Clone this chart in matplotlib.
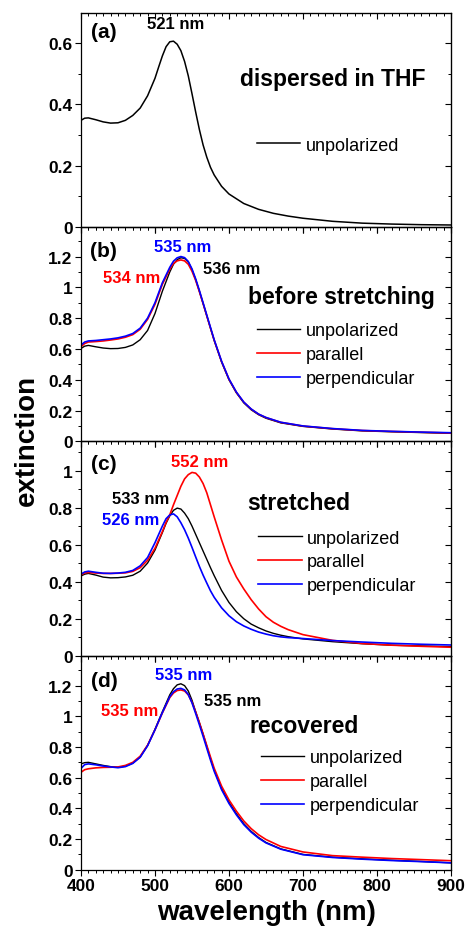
import matplotlib
matplotlib.use('Agg')
import matplotlib.pyplot as plt
from matplotlib.ticker import MultipleLocator, FuncFormatter

plt.rcParams['font.family'] = ['Liberation Sans', 'DejaVu Sans']
plt.rcParams['font.weight'] = 'bold'

# ---------------- data ----------------
# (a) dispersed in THF
wl_a = [400, 405, 410, 420, 430, 440, 450, 460, 470, 480, 490, 500, 505, 510, 515, 520, 525, 530, 535,
        540, 545, 550, 555, 560, 565, 570, 575, 580, 590, 600, 620, 640, 660, 680, 700, 740, 780, 820,
        860, 900]
a_unpol = [0.348, 0.355, 0.356, 0.350, 0.343, 0.339, 0.340, 0.348, 0.364, 0.388, 0.428, 0.485, 0.522,
           0.558, 0.588, 0.604, 0.606, 0.596, 0.575, 0.540, 0.493, 0.435, 0.375, 0.318, 0.268, 0.228,
           0.195, 0.170, 0.133, 0.108, 0.077, 0.058, 0.045, 0.036, 0.029, 0.019, 0.013, 0.010, 0.008,
           0.007]

# (b) before stretching and (d) recovered share a wavelength grid
wl_bd = [400, 405, 410, 420, 430, 440, 450, 460, 470, 480, 490, 500, 510, 520, 525, 530, 535, 540,
         545, 550, 555, 560, 565, 570, 575, 580, 590, 600, 610, 620, 630, 640, 650, 670, 700, 740,
         780, 820, 860, 900]
b_unpol = [0.603, 0.618, 0.623, 0.614, 0.606, 0.602, 0.603, 0.610, 0.626, 0.660, 0.720, 0.830, 0.975,
           1.100, 1.150, 1.180, 1.192, 1.188, 1.165, 1.115, 1.050, 0.975, 0.895, 0.815, 0.735, 0.655,
           0.515, 0.400, 0.315, 0.250, 0.205, 0.173, 0.150, 0.120, 0.097, 0.080, 0.068, 0.062, 0.057, 0.052]
b_par = [0.615, 0.635, 0.645, 0.648, 0.652, 0.658, 0.665, 0.676, 0.693, 0.728, 0.792, 0.890, 1.020,
         1.118, 1.155, 1.172, 1.178, 1.172, 1.150, 1.105, 1.045, 0.972, 0.895, 0.815, 0.735, 0.657,
         0.518, 0.403, 0.318, 0.254, 0.209, 0.176, 0.154, 0.123, 0.099, 0.082, 0.070, 0.064, 0.059, 0.054]
b_perp = [0.625, 0.645, 0.652, 0.655, 0.660, 0.665, 0.672, 0.683, 0.700, 0.735, 0.800, 0.900, 1.030,
          1.130, 1.170, 1.192, 1.200, 1.193, 1.168, 1.120, 1.055, 0.980, 0.900, 0.820, 0.740, 0.660,
          0.520, 0.405, 0.320, 0.255, 0.210, 0.177, 0.155, 0.124, 0.100, 0.083, 0.071, 0.065, 0.060, 0.056]

# (c) stretched
wl_c = [400, 405, 410, 420, 430, 440, 450, 460, 470, 480, 490, 500, 510, 515, 520, 525, 530, 535, 540,
        545, 550, 555, 560, 565, 570, 575, 580, 590, 600, 610, 620, 630, 640, 650, 660, 670, 680, 700,
        740, 780, 820, 860, 900]
c_unpol = [0.430, 0.440, 0.444, 0.435, 0.424, 0.420, 0.421, 0.425, 0.434, 0.456, 0.500, 0.570, 0.665,
           0.715, 0.755, 0.785, 0.797, 0.792, 0.770, 0.740, 0.700, 0.655, 0.610, 0.565, 0.520, 0.475,
           0.432, 0.352, 0.287, 0.237, 0.199, 0.170, 0.150, 0.133, 0.120, 0.110, 0.102, 0.090, 0.075,
           0.064, 0.056, 0.052, 0.048]
c_par = [0.435, 0.447, 0.449, 0.446, 0.444, 0.444, 0.445, 0.447, 0.455, 0.475, 0.515, 0.580, 0.670,
         0.720, 0.761, 0.815, 0.865, 0.915, 0.955, 0.978, 0.990, 0.986, 0.965, 0.930, 0.880, 0.815,
         0.750, 0.625, 0.510, 0.425, 0.360, 0.302, 0.252, 0.210, 0.180, 0.158, 0.140, 0.113, 0.082,
         0.065, 0.056, 0.050, 0.045]
c_perp = [0.440, 0.452, 0.456, 0.450, 0.445, 0.444, 0.446, 0.450, 0.460, 0.485, 0.530, 0.610, 0.700,
          0.740, 0.760, 0.766, 0.750, 0.718, 0.680, 0.635, 0.585, 0.533, 0.482, 0.435, 0.392, 0.350,
          0.315, 0.258, 0.215, 0.183, 0.160, 0.142, 0.127, 0.116, 0.107, 0.101, 0.097, 0.092, 0.081,
          0.073, 0.066, 0.061, 0.057]

# (d) recovered
d_unpol = [0.690, 0.698, 0.700, 0.690, 0.680, 0.672, 0.668, 0.675, 0.695, 0.735, 0.810, 0.915, 1.030,
           1.140, 1.180, 1.205, 1.212, 1.200, 1.165, 1.105, 1.030, 0.960, 0.885, 0.805, 0.725, 0.650,
           0.530, 0.440, 0.365, 0.300, 0.250, 0.210, 0.178, 0.136, 0.100, 0.082, 0.071, 0.062, 0.054, 0.045]
d_par = [0.635, 0.652, 0.658, 0.664, 0.667, 0.668, 0.670, 0.680, 0.700, 0.740, 0.812, 0.912, 1.022,
         1.122, 1.152, 1.168, 1.172, 1.165, 1.140, 1.092, 1.028, 0.958, 0.885, 0.810, 0.735, 0.662,
         0.545, 0.455, 0.382, 0.318, 0.268, 0.228, 0.197, 0.152, 0.116, 0.092, 0.082, 0.073, 0.066, 0.059]
d_perp = [0.660, 0.685, 0.690, 0.684, 0.676, 0.670, 0.665, 0.672, 0.693, 0.733, 0.808, 0.912, 1.025,
          1.128, 1.160, 1.178, 1.182, 1.172, 1.142, 1.088, 1.018, 0.945, 0.870, 0.792, 0.715, 0.642,
          0.522, 0.432, 0.358, 0.294, 0.245, 0.206, 0.175, 0.134, 0.098, 0.080, 0.069, 0.060, 0.053, 0.045]

series_labels = ['unpolarized', 'parallel', 'perpendicular']
series_colors = ['#000000', '#ff0000', '#0000ff']
panel_tags = ['(a)', '(b)', '(c)', '(d)']
panel_titles = ['dispersed in THF', 'before stretching', 'stretched', 'recovered']
y_tops = [0.698, 1.391, 1.158, 1.396]
x_ticks = [400, 500, 600, 700, 800, 900]

# ---------------- figure ----------------
fig = plt.figure(figsize=(4.67, 9.29), dpi=100)
gs = fig.add_gridspec(4, 1, left=0.1734, right=0.9657, bottom=0.0627, top=0.985, hspace=0)
axes = [fig.add_subplot(gs[i]) for i in range(4)]

fmt = FuncFormatter(lambda v, p: f'{v:g}')

def style(ax, ytop, last):
    ax.set_xlim(400, 900)
    ax.set_ylim(0, ytop)
    ax.set_facecolor('none')
    ax.xaxis.set_major_locator(MultipleLocator(100))
    ax.xaxis.set_minor_locator(MultipleLocator(10))
    ax.yaxis.set_major_locator(MultipleLocator(0.2))
    ax.yaxis.set_minor_locator(MultipleLocator(0.1))
    ax.yaxis.set_major_formatter(fmt)
    ax.tick_params(axis='both', which='major', direction='out', length=4, width=0.8,
                   labelsize=12.5, pad=2)
    ax.tick_params(axis='both', which='minor', direction='out', length=2, width=0.7)
    ax.tick_params(axis='x', labelbottom=last, top=False)
    ax.tick_params(axis='y', right=False)
    for s in ax.spines.values():
        s.set_linewidth(0.9)
    sx = ax.secondary_xaxis('top')
    sx.xaxis.set_major_locator(MultipleLocator(100))
    sx.xaxis.set_minor_locator(MultipleLocator(10))
    sx.tick_params(which='major', direction='in', length=4, width=0.8, labeltop=False)
    sx.tick_params(which='minor', direction='in', length=2, width=0.7)
    sy = ax.secondary_yaxis('right')
    sy.yaxis.set_major_locator(MultipleLocator(0.2))
    sy.yaxis.set_minor_locator(MultipleLocator(0.1))
    sy.tick_params(which='major', direction='in', length=4, width=0.8, labelright=False)
    sy.tick_params(which='minor', direction='in', length=2, width=0.7)

# panel (a)
ax = axes[0]
style(ax, y_tops[0], False)
ax.plot(wl_a, a_unpol, color='black', lw=1.1, label='unpolarized')

# panels b, c, d
panel_data = [(wl_bd, [b_unpol, b_par, b_perp]),
              (wl_c, [c_unpol, c_par, c_perp]),
              (wl_bd, [d_unpol, d_par, d_perp])]
for i, (x, ys) in enumerate(panel_data, start=1):
    ax = axes[i]
    style(ax, y_tops[i], i == 3)
    for y, c, lab in zip(ys, series_colors, series_labels):
        ax.plot(x, y, color=c, lw=1.2 if c != '#000000' else 1.0, label=lab)

# legends
leg_pos = [(0.476, 0.383), (0.475, 0.404), (0.479, 0.437), (0.486, 0.411)]
for ax, (lx, ly) in zip(axes, leg_pos):
    ax.legend(loc='center left', bbox_to_anchor=(lx, ly), frameon=False,
              prop={'weight': 'normal', 'size': 13}, handlelength=2.4, handletextpad=0.3,
              borderpad=0, borderaxespad=0, labelspacing=0.38)

# panel tags and titles
tag_pos = [(0.062, 0.911), (0.062, 0.889), (0.062, 0.897), (0.062, 0.883)]
title_pos = [(0.68, 0.696), (0.703, 0.677), (0.588, 0.716), (0.603, 0.673)]
for ax, tag, tp, ttl, tt in zip(axes, panel_tags, tag_pos, panel_titles, title_pos):
    ax.text(tp[0], tp[1], tag, transform=ax.transAxes, ha='center', va='center', fontsize=15)
    ax.text(tt[0], tt[1], ttl, transform=ax.transAxes, ha='center', va='center', fontsize=16.5)

# peak labels
peak_labels = [
    (0, '521 nm', 'black', 0.257, 0.953),
    (1, '535 nm', '#0000ff', 0.275, 0.909),
    (1, '534 nm', '#ff0000', 0.137, 0.764),
    (1, '536 nm', 'black', 0.407, 0.806),
    (2, '552 nm', '#ff0000', 0.322, 0.905),
    (2, '533 nm', 'black', 0.162, 0.735),
    (2, '526 nm', '#0000ff', 0.135, 0.634),
    (3, '535 nm', '#0000ff', 0.277, 0.911),
    (3, '535 nm', '#ff0000', 0.132, 0.743),
    (3, '535 nm', 'black', 0.409, 0.790),
]
for idx, txt, col, px, py in peak_labels:
    axes[idx].text(px, py, txt, color=col, transform=axes[idx].transAxes,
                   ha='center', va='center', fontsize=12)

axes[3].set_xticks(x_ticks)
fig.text(0.058, 0.526, 'extinction', rotation=90, ha='center', va='center', fontsize=20)
fig.text(0.57, 0.017, 'wavelength (nm)', ha='center', va='center', fontsize=20)

fig.savefig('out.png', dpi=100)
